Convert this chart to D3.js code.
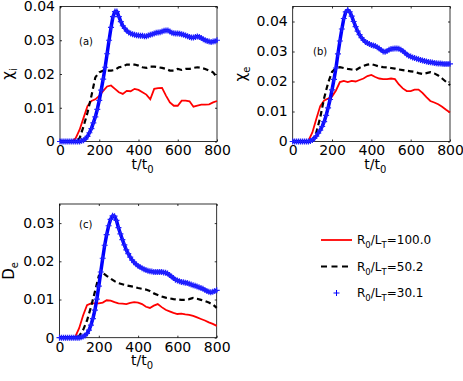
<!DOCTYPE html>
<html>
<head>
<meta charset="utf-8">
<script src="https://cdn.jsdelivr.net/npm/d3@7"></script>
<style>
  body { margin: 0; background: #fff; }
  text { font-family: 'DejaVu Sans', sans-serif; }
</style>
</head>
<body>
<svg id="canvas" width="463" height="381"></svg>
<script>
// time grids (red / black sampled every 20, blue every 10)
const tLine = d3.range(0, 801, 20)
const tMark = d3.range(0, 801, 10)
const xTickVals = [0, 200, 400, 600, 800]

// (a) chi_i
const chiIRed = [0, 0, 0, 0, 0.001, 0.0035, 0.007, 0.0105, 0.012, 0.0125, 0.0135, 0.015, 0.0163, 0.0166, 0.0156, 0.0146, 0.0141, 0.015, 0.0149, 0.0156, 0.0153, 0.0146, 0.0139, 0.0125, 0.0156, 0.0158, 0.0159, 0.0136, 0.0116, 0.0106, 0.0106, 0.0121, 0.0121, 0.0119, 0.0103, 0.0106, 0.0109, 0.0109, 0.011, 0.0116, 0.012]
const chiIBlack = [0, 0, 0, 0, 0, 0.001, 0.0045, 0.0085, 0.0135, 0.019, 0.0205, 0.021, 0.021, 0.021, 0.0212, 0.022, 0.0222, 0.0228, 0.0228, 0.0228, 0.0225, 0.022, 0.0218, 0.0222, 0.0222, 0.022, 0.0218, 0.0215, 0.021, 0.021, 0.0215, 0.0212, 0.0215, 0.0215, 0.0218, 0.022, 0.0218, 0.0215, 0.021, 0.0205, 0.019]
const chiIBlue = [0, 0, 0, 0, 0, 0, 0, 0, 0, 0, 0,
  0.0002, 0.0004, 0.0008, 0.0015, 0.0026, 0.0038, 0.0055, 0.0073, 0.0095, 0.0122,
  0.0152, 0.0185, 0.022, 0.026, 0.030, 0.0338, 0.037, 0.0385, 0.0385, 0.037,
  0.0355, 0.0343, 0.0335, 0.0328, 0.0323, 0.032, 0.0318, 0.0316, 0.0315, 0.0314,
  0.0313, 0.0313, 0.0312, 0.0312, 0.0314, 0.0316, 0.0318, 0.032, 0.0322, 0.0323,
  0.0324, 0.0326, 0.0328, 0.0329, 0.0329, 0.0326, 0.0322, 0.0321, 0.032, 0.032,
  0.0319, 0.0318, 0.0316, 0.0314, 0.0312, 0.031, 0.0308, 0.0308, 0.031, 0.0311,
  0.031, 0.0307, 0.0303, 0.03, 0.0298, 0.0296, 0.0295, 0.0296, 0.0297, 0.03]

// (b) chi_e
const chiERed = [0, 0, 0, 0, 0.0003, 0.003, 0.0075, 0.0118, 0.0137, 0.0143, 0.015, 0.017, 0.0198, 0.0202, 0.0198, 0.0202, 0.02, 0.0205, 0.021, 0.0218, 0.0222, 0.0215, 0.021, 0.0208, 0.0208, 0.021, 0.0208, 0.019, 0.0177, 0.0168, 0.0168, 0.0173, 0.0173, 0.0162, 0.0148, 0.0135, 0.013, 0.0124, 0.0116, 0.0106, 0.0097]
const chiEBlack = [0, 0, 0, 0, 0, 0.0005, 0.003, 0.008, 0.0145, 0.0195, 0.0232, 0.0245, 0.0248, 0.0245, 0.0242, 0.024, 0.0238, 0.0246, 0.0252, 0.0256, 0.0258, 0.0254, 0.025, 0.0248, 0.0247, 0.0245, 0.0243, 0.024, 0.0238, 0.0236, 0.0234, 0.0232, 0.0228, 0.0225, 0.0228, 0.0231, 0.0227, 0.022, 0.021, 0.0199, 0.0188]
const chiEBlue = [0, 0, 0, 0, 0, 0, 0, 0, 0, 0.0002, 0.0005,
  0.001, 0.0018, 0.0028, 0.0038, 0.005, 0.0066, 0.0087, 0.0112, 0.014, 0.0172,
  0.0207, 0.0245, 0.0292, 0.0335, 0.0375, 0.041, 0.0432, 0.0438, 0.0432, 0.0418,
  0.04, 0.0383, 0.0368, 0.0356, 0.0346, 0.0338, 0.0332, 0.0328, 0.0325, 0.0322,
  0.032, 0.0318, 0.0314, 0.031, 0.0305, 0.03, 0.0299, 0.0302, 0.0306, 0.0308,
  0.0309, 0.031, 0.031, 0.0309, 0.0306, 0.0302, 0.0296, 0.029, 0.0286, 0.0283,
  0.028, 0.0278, 0.0276, 0.0274, 0.0272, 0.027, 0.0268, 0.0267, 0.0265, 0.0264,
  0.0263, 0.0262, 0.0261, 0.026, 0.026, 0.0259, 0.0258, 0.0258, 0.0258, 0.0259]

// (c) D_e
const dERed = [0, 0, 0, 0, 0.0002, 0.0025, 0.0058, 0.0085, 0.009, 0.009, 0.009, 0.0092, 0.0098, 0.0097, 0.0093, 0.009, 0.0089, 0.0088, 0.0091, 0.0093, 0.0092, 0.0088, 0.0081, 0.0078, 0.0084, 0.0088, 0.008, 0.0073, 0.0069, 0.0065, 0.0062, 0.0063, 0.0061, 0.006, 0.0057, 0.0053, 0.0049, 0.0045, 0.004, 0.0036, 0.0031]
const dEBlack = [0, 0, 0, 0, 0, 0.0004, 0.002, 0.0045, 0.008, 0.012, 0.0162, 0.017, 0.0162, 0.0155, 0.0148, 0.0143, 0.014, 0.0137, 0.0135, 0.0133, 0.013, 0.0128, 0.0126, 0.0122, 0.0116, 0.0112, 0.0108, 0.0105, 0.0103, 0.0101, 0.01, 0.0099, 0.0099, 0.0101, 0.0104, 0.0102, 0.0099, 0.0096, 0.0092, 0.0087, 0.0078]
const dEBlue = [0, 0, 0, 0, 0, 0, 0, 0, 0, 0, 0,
  0.0001, 0.0003, 0.0006, 0.0011, 0.002, 0.0033, 0.005, 0.0072, 0.0101, 0.0135,
  0.0172, 0.0208, 0.0242, 0.027, 0.0293, 0.031, 0.0319, 0.0318, 0.0307, 0.0288,
  0.0272, 0.0257, 0.0243, 0.023, 0.022, 0.0211, 0.0203, 0.0197, 0.0192, 0.0188,
  0.0185, 0.0182, 0.0179, 0.0177, 0.0175, 0.0174, 0.0173, 0.0172, 0.0172, 0.0172,
  0.0172, 0.0172, 0.0171, 0.017, 0.0168, 0.0164, 0.016, 0.0156, 0.0152, 0.015,
  0.0148, 0.0146, 0.0145, 0.0144, 0.0143, 0.0141, 0.0139, 0.0137, 0.0136, 0.0134,
  0.0132, 0.013, 0.0128, 0.0125, 0.0122, 0.012, 0.0119, 0.012, 0.0122, 0.0124]

const legendLabels = ['100.0', '50.2', '30.1']

const svg = d3.select('#canvas')
const plusPath = 'M-3,0H3M0,-3V3'

const panels = [
  { tag: '(a)', ylab: ['χ', 'i'], red: chiIRed, black: chiIBlack, blue: chiIBlue,
    yMax: 0.04, yTicks: [0, 0.01, 0.02, 0.03, 0.04],
    left: 60, right: 217, top: 6.5, bottom: 141.5, tagPos: [79, 45], ylabX: 13 },
  { tag: '(b)', ylab: ['χ', 'e'], red: chiERed, black: chiEBlack, blue: chiEBlue,
    yMax: 0.045, yTicks: [0, 0.01, 0.02, 0.03, 0.04],
    left: 292.7, right: 450, top: 6.5, bottom: 141.5, tagPos: [313, 55], ylabX: 246 },
  { tag: '(c)', ylab: ['D', 'e'], red: dERed, black: dEBlack, blue: dEBlue,
    yMax: 0.035, yTicks: [0, 0.01, 0.02, 0.03],
    left: 59.5, right: 216.7, top: 204, bottom: 337.7, tagPos: [79, 228], ylabX: 14 }
]

// text with a subscript part
const subText = (sel, parts, subSize) => {
  parts.forEach((p, i) => {
    const sub = i % 2 === 1
    sel.append('tspan')
      .attr('font-size', sub ? subSize : null)
      .attr('dy', sub ? 4 : (i > 0 ? -4 : 0))
      .text(p)
  })
}

const drawPanel = p => {
  const x = d3.scaleLinear().domain([0, 800]).range([p.left, p.right])
  const y = d3.scaleLinear().domain([0, p.yMax]).range([p.bottom, p.top])
  const g = svg.append('g')

  const styleAxis = a => {
    a.select('.domain').remove()
    a.selectAll('.tick line').attr('stroke', '#000').attr('stroke-width', 0.8)
    a.selectAll('text').attr('font-size', 14).attr('fill', '#000')
      .attr('font-family', "'DejaVu Sans', sans-serif")
  }

  g.append('g').attr('transform', `translate(0,${p.bottom})`)
    .call(d3.axisBottom(x).tickValues(xTickVals).tickSize(-2).tickPadding(4).tickFormat(d3.format('d')))
    .call(styleAxis)
  g.append('g').attr('transform', `translate(0,${p.top})`)
    .call(d3.axisTop(x).tickValues(xTickVals).tickSize(-2).tickFormat(''))
    .call(styleAxis)
  g.append('g').attr('transform', `translate(${p.left},0)`)
    .call(d3.axisLeft(y).tickValues(p.yTicks).tickSize(-2).tickPadding(5).tickFormat(d => d === 0 ? '0' : d3.format('.2f')(d)))
    .call(styleAxis)
  g.append('g').attr('transform', `translate(${p.right},0)`)
    .call(d3.axisRight(y).tickValues(p.yTicks).tickSize(-2).tickFormat(''))
    .call(styleAxis)

  g.append('rect')
    .attr('x', p.left).attr('y', p.top)
    .attr('width', p.right - p.left).attr('height', p.bottom - p.top)
    .attr('fill', 'none').attr('stroke', '#000').attr('stroke-width', 0.8)

  const line = d3.line().x(d => x(d[0])).y(d => y(d[1]))

  g.append('path').datum(d3.zip(tLine, p.red))
    .attr('d', line).attr('fill', 'none').attr('stroke', '#ff0000').attr('stroke-width', 1.8)
  g.append('path').datum(d3.zip(tLine, p.black))
    .attr('d', line).attr('fill', 'none').attr('stroke', '#000').attr('stroke-width', 2.2)
    .attr('stroke-dasharray', '5.5,3.5')

  // blue series: dense '+' markers over a solid band
  const blue = d3.zip(tMark, p.blue)
  g.append('path').datum(blue)
    .attr('d', line).attr('fill', 'none').attr('stroke', '#0000ff').attr('stroke-width', 3.5)
    .attr('stroke-linejoin', 'round')
  g.selectAll('.plus').data(blue).enter().append('path')
    .attr('class', 'plus')
    .attr('transform', d => `translate(${x(d[0])},${y(d[1])})`)
    .attr('d', plusPath).attr('stroke', '#2020ff').attr('stroke-width', 1.2)

  g.append('text').attr('x', p.tagPos[0]).attr('y', p.tagPos[1])
    .attr('font-size', 10).text(p.tag)

  const xl = g.append('text')
    .attr('x', (p.left + p.right) / 2 + 4).attr('y', p.bottom + 27)
    .attr('text-anchor', 'middle').attr('font-size', 14)
  subText(xl, ['t/t', '0'], 10)

  const yl = g.append('text')
    .attr('transform', `translate(${p.ylabX},${(p.top + p.bottom) / 2}) rotate(-90)`)
    .attr('text-anchor', 'middle').attr('font-size', 15)
  subText(yl, p.ylab, 10)
}

panels.forEach(drawPanel)

// legend
const lg = svg.append('g')
const rows = [240, 266.5, 293]
lg.append('line').attr('x1', 321).attr('x2', 352).attr('y1', rows[0]).attr('y2', rows[0])
  .attr('stroke', '#ff0000').attr('stroke-width', 1.8)
lg.append('line').attr('x1', 321).attr('x2', 352).attr('y1', rows[1]).attr('y2', rows[1])
  .attr('stroke', '#000').attr('stroke-width', 2.2).attr('stroke-dasharray', '6,4.5')
lg.append('path').attr('transform', `translate(336.5,${rows[2]})`)
  .attr('d', plusPath).attr('stroke', '#0000ff').attr('stroke-width', 1)

legendLabels.forEach((lab, i) => {
  const t = lg.append('text').attr('x', 357).attr('y', rows[i] + 4)
    .attr('font-size', 12).attr('font-family', "'Liberation Sans', Arial, sans-serif")
  subText(t, ['R', '0', '/L', 'T', '=' + lab], 8.5)
})
</script>
</body>
</html>
